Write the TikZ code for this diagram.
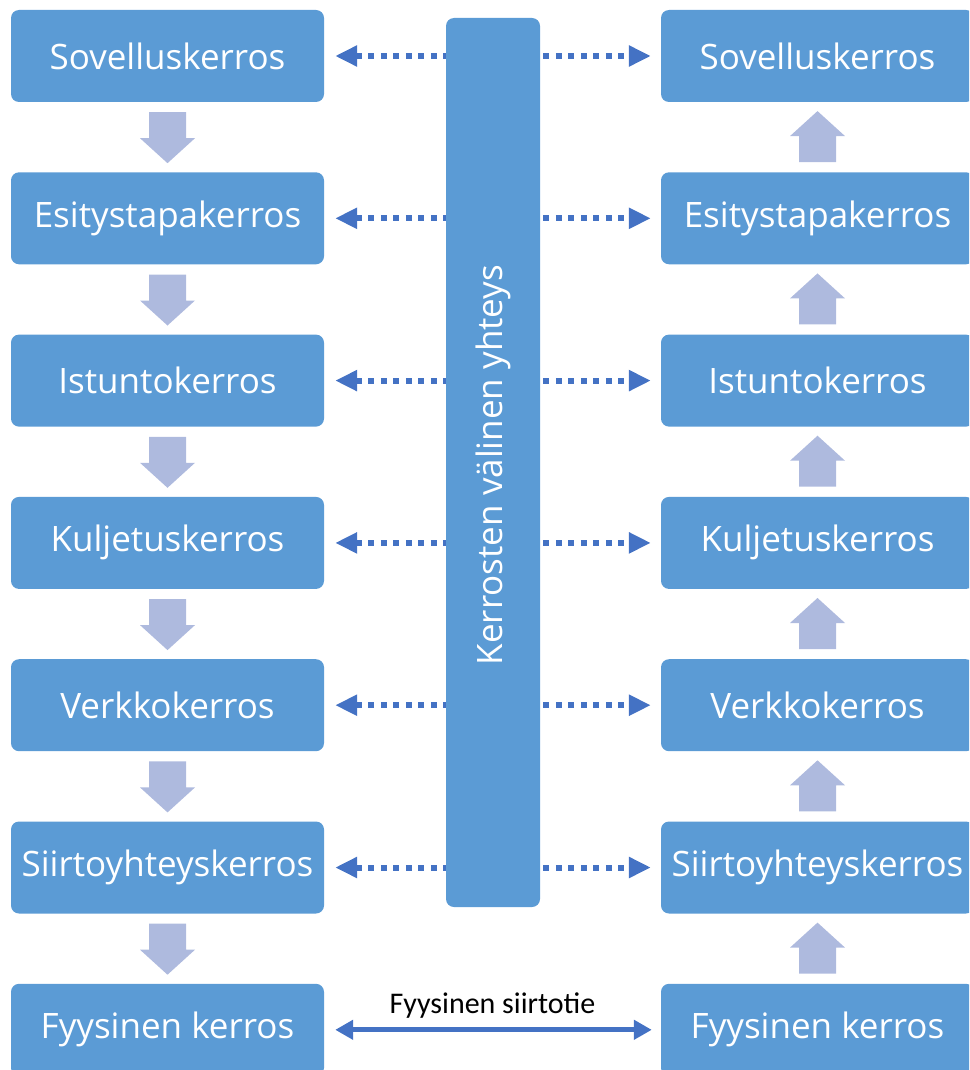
\documentclass[tikz,border=0pt]{standalone}
\usepackage{fontspec}
\setmainfont{Open Sans}
\newfontfamily\labelfont{Carlito}
\usetikzlibrary{arrows.meta,calc}
\definecolor{boxblue}{RGB}{91,155,213}
\definecolor{linkblue}{RGB}{68,114,196}
\definecolor{flowgrey}{RGB}{174,186,222}
\begin{document}
\begin{tikzpicture}[x=1pt,y=-1pt,
  layer/.style={fill=boxblue, rounded corners=8pt, minimum width=313pt,
    minimum height=92pt, inner sep=0pt, text=white,
    font=\fontsize{35}{42}\selectfont},
  peer/.style={draw=linkblue, line width=6pt, dash pattern=on 6pt off 6.5pt,
    {Triangle[length=22pt,width=20pt]}-{Triangle[length=22pt,width=20pt]},
    shorten <=11pt, shorten >=10pt},
  wire/.style={draw=linkblue, line width=5pt,
    {Triangle[length=18pt,width=19pt]}-{Triangle[length=18pt,width=19pt]},
    shorten <=11pt, shorten >=9pt},
  channel/.style={fill=boxblue, rounded corners=8pt, minimum width=94pt,
    minimum height=889pt, inner sep=0pt},
  flow/.pic={\fill[flowgrey] (-18.5,0) -- (18.5,0) -- (18.5,26) -- (27.5,26)
    -- (0,51) -- (-27.5,26) -- (-18.5,26) -- cycle;}
]
\useasboundingbox (0,0) rectangle (969,1070);
\clip (0,0) rectangle (969,1070);

% protocol layers, sender (L) and receiver (R)
\foreach \i/\t in {1/Sovelluskerros, 2/Esitystapakerros, 3/Istuntokerros,
    4/Kuljetuskerros, 5/Verkkokerros, 6/Siirtoyhteyskerros, 7/Fyysinen kerros} {
  \node[layer] (L\i) at (167.5, {56+162.3*(\i-1)}) {\t};
  \node[layer] (R\i) at (817.5, {56+162.3*(\i-1)}) {\t};
}

% data flows down on the sending side and up on the receiving side
\foreach \i/\j in {1/2, 2/3, 3/4, 4/5, 5/6, 6/7} {
  \pic at ($(L\i.south)+(0,10)$) {flow};
  \pic[rotate=180] at ($(R\j.north)+(0,-10)$) {flow};
}

% logical peer-to-peer links
\foreach \i in {1,...,6} {
  \draw[peer] (L\i.east) -- (R\i.west);
}

% physical medium
\draw[wire] (L7.east) -- (R7.west)
  node[midway, anchor=base, yshift=16pt, text=black,
       font=\labelfont\fontsize{30}{36}\selectfont] (medium) {Fyysinen siirtotie};

% shared channel bar in front of the links
\node[channel] (bar) at (493,462.5) {};
\node[rotate=90, text=white, inner sep=0pt, font=\fontsize{35}{42}\selectfont]
  (barlabel) at (493,465) {Kerrosten välinen yhteys};
\end{tikzpicture}
\end{document}
